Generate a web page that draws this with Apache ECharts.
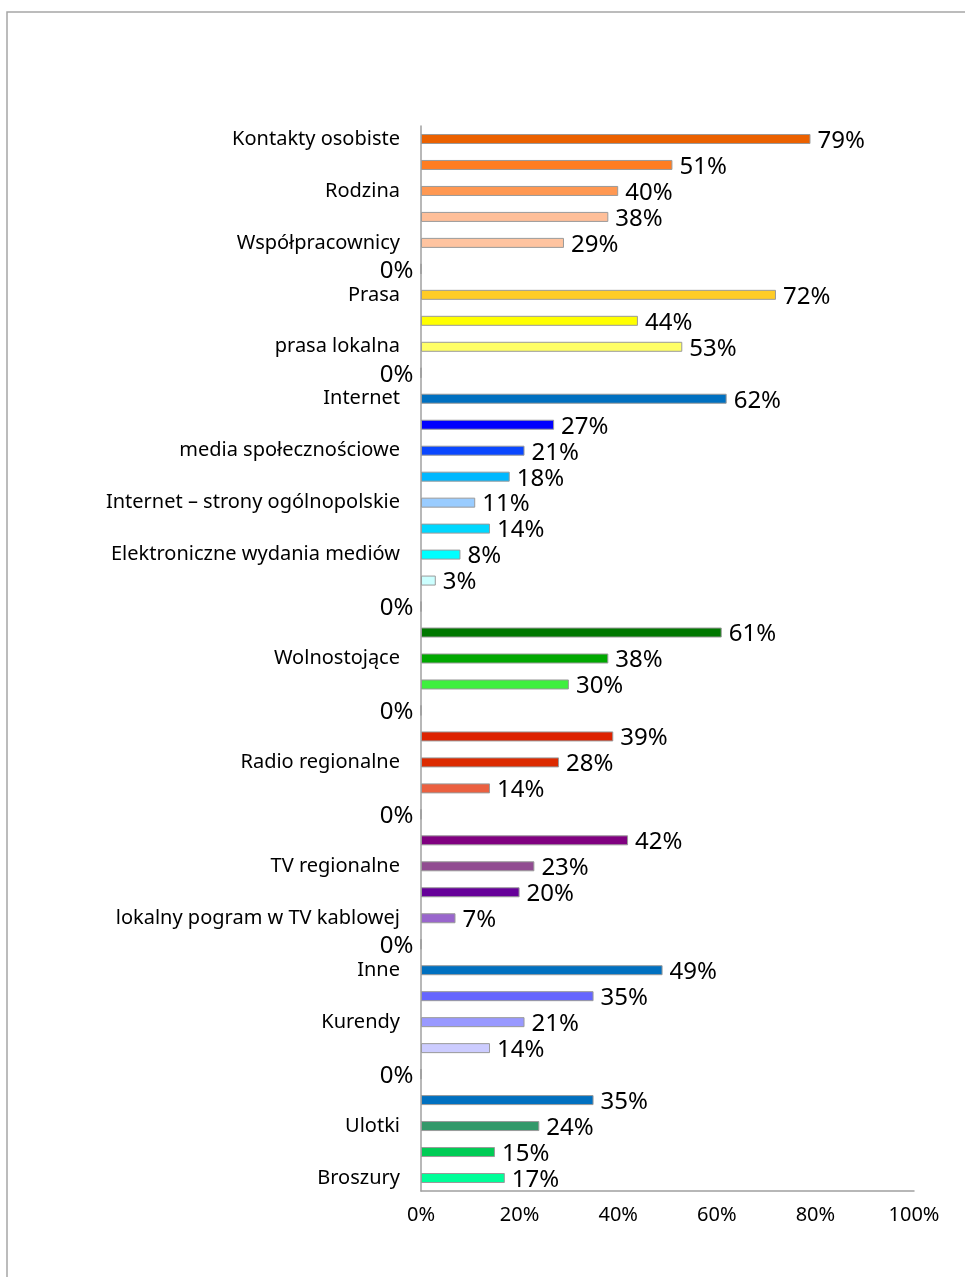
<!DOCTYPE html>
<html>
<head>
<meta charset="utf-8">
<script src="https://cdn.jsdelivr.net/npm/echarts@6/dist/echarts.min.js"></script>
<style>
html,body{margin:0;padding:0;background:#fff;}
#chart{width:965px;height:1277px;}
</style>
</head>
<body>
<div id="chart"></div>
<script>
const categories = [
  'Kontakty osobiste', '', 'Rodzina', '', 'Współpracownicy', '',
  'Prasa', '', 'prasa lokalna', '',
  'Internet', '', 'media społecznościowe', '', 'Internet – strony ogólnopolskie', '',
  'Elektroniczne wydania mediów', '', '', '',
  'Wolnostojące', '', '', '',
  'Radio regionalne', '', '', '',
  'TV regionalne', '', 'lokalny pogram w TV kablowej', '',
  'Inne', '', 'Kurendy', '', '', '',
  'Ulotki', '', 'Broszury'
];
const values = [
  79, 51, 40, 38, 29, 0,
  72, 44, 53, 0,
  62, 27, 21, 18, 11, 14, 8, 3, 0,
  61, 38, 30, 0,
  39, 28, 14, 0,
  42, 23, 20, 7, 0,
  49, 35, 21, 14, 0,
  35, 24, 15, 17
];
const colors = [
  '#EB6100', '#FF7D22', '#FF9852', '#FFBF99', '#FFC4A0', '#FFFFFF',
  '#FFCC26', '#FFFF00', '#FFFF66', '#FFFFFF',
  '#0070C0', '#0000FF', '#0A47FF', '#00B8FF', '#99CCFF', '#00D8FF', '#00FFFF', '#CCFFFF', '#FFFFFF',
  '#007800', '#00A800', '#3FEF3F', '#FFFFFF',
  '#DD2200', '#DC2A00', '#EB6040', '#FFFFFF',
  '#800080', '#914C91', '#660099', '#9966CC', '#FFFFFF',
  '#0070C0', '#6666FF', '#9999FF', '#CCCCFF', '#FFFFFF',
  '#0070C0', '#33996A', '#00CC55', '#00FF99'
];
const xTicks = { min: 0, max: 100, interval: 20 };

const font = '"Noto Sans", "Open Sans", sans-serif';
const seriesData = values.map((v, i) => ({
  value: v,
  itemStyle: { color: colors[i] },
  label: { position: v === 0 ? 'left' : 'right' }
}));

const chart = echarts.init(document.getElementById('chart'), null, { renderer: 'canvas' });
chart.setOption({
  backgroundColor: '#fff',
  animation: false,
  graphic: [{
    type: 'rect',
    shape: { x: 7, y: 12, width: 1100, height: 1400 },
    style: { fill: 'none', stroke: '#A6A6A6', lineWidth: 1.5 },
    silent: true
  }],
  grid: { left: 421, right: 51, top: 126, bottom: 86, containLabel: false },
  xAxis: {
    type: 'value',
    min: xTicks.min, max: xTicks.max, interval: xTicks.interval,
    axisLine: { show: true, lineStyle: { color: '#A0A0A0', width: 1.5 } },
    axisTick: { show: false },
    splitLine: { show: false },
    axisLabel: { formatter: '{value}%', fontSize: 20, color: '#000', fontFamily: font, margin: 14 }
  },
  yAxis: {
    type: 'category',
    inverse: true,
    data: categories,
    axisLine: { show: true, lineStyle: { color: '#A0A0A0', width: 1.5 } },
    axisTick: { show: false },
    axisLabel: { interval: 0, fontSize: 20, color: '#000', fontFamily: font, margin: 21, padding: [4, 0, 0, 0] }
  },
  series: [{
    type: 'bar',
    data: seriesData,
    barWidth: 10,
    itemStyle: { borderColor: '#9A9A9A', borderWidth: 1 },
    label: {
      show: true,
      formatter: '{c}%',
      distance: 7,
      offset: [0, 2],
      fontSize: 24,
      color: '#000',
      fontFamily: font
    }
  }]
});
</script>
</body>
</html>
